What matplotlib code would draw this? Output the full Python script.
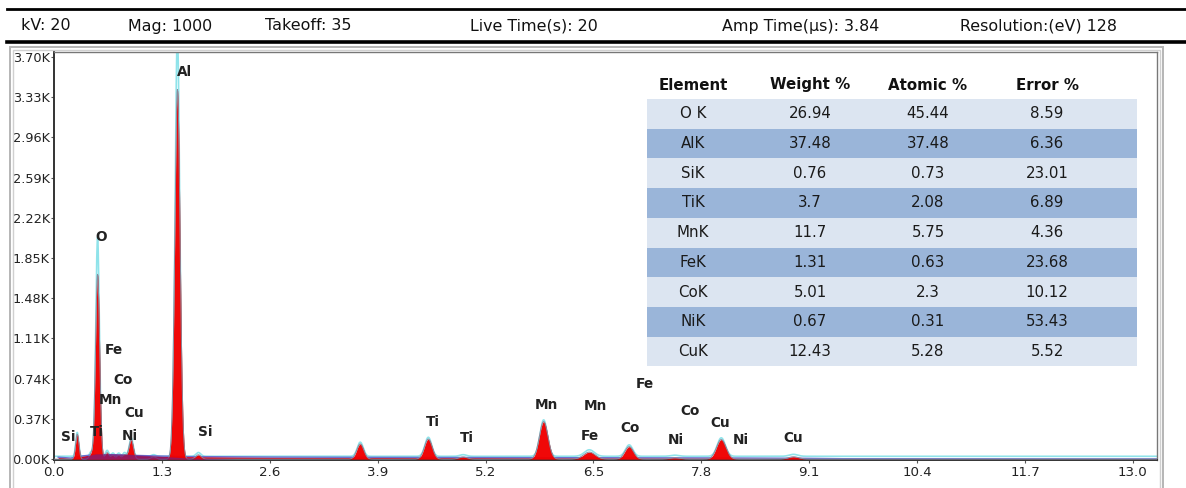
import matplotlib
matplotlib.use("Agg")
import matplotlib.pyplot as plt
from matplotlib.lines import Line2D
from matplotlib.patches import Rectangle
import numpy as np

# acquisition settings shown in the header bar
header_labels = ["kV: 20", "Mag: 1000", "Takeoff: 35", "Live Time(s): 20",
                 "Amp Time(\u00b5s): 3.84", "Resolution:(eV) 128"]

# peaks of the EDS spectrum (keV, counts, width in keV)
peak_energy = [0.28, 0.45, 0.525, 0.64, 0.71, 0.78, 0.85, 0.93, 1.20, 1.487,
               1.74, 3.69, 4.51, 4.93, 5.90, 6.45, 6.93, 7.48, 8.04, 8.91]
peak_counts = [230, 50, 1700, 60, 35, 35, 40, 180, 20, 3400,
               40, 140, 185, 20, 345, 65, 115, 12, 180, 22]
peak_top_counts = [220, 45, 2016, 55, 30, 30, 35, 170, 15, 3900,
                   35, 130, 175, 15, 335, 60, 105, 10, 170, 18]
peak_sigma = [0.02, 0.022, 0.025, 0.022, 0.022, 0.022, 0.022, 0.027, 0.03, 0.032,
              0.033, 0.042, 0.047, 0.047, 0.052, 0.07, 0.052, 0.06, 0.057, 0.06]

# continuum under the peaks
bg_energy = [0.05, 0.2, 0.35, 0.5, 0.7, 0.9, 1.1, 1.3, 1.6, 2.0, 2.6, 3.5,
             5.0, 6.5, 8.0, 9.0, 9.5, 11.0, 13.3]
bg_counts = [18, 10, 30, 42, 40, 36, 32, 28, 24, 22, 19, 17, 15, 13, 11, 8, 4, 3, 2]
hump_energy = [0.3, 0.4, 0.5, 0.7, 0.9, 1.1, 1.3, 1.6, 2.2]
hump_counts = [0, 30, 48, 50, 45, 35, 25, 12, 0]

# element labels placed on the spectrum
label_text = ["Al", "O", "Fe", "Co", "Mn", "Cu", "Si", "Ti", "Ni", "Si",
              "Ti", "Ti", "Mn", "Mn", "Fe", "Fe", "Co", "Co", "Ni", "Cu", "Ni", "Cu"]
label_energy = [1.57, 0.57, 0.72, 0.83, 0.68, 0.97, 0.17, 0.52, 0.91, 1.82,
                4.56, 4.97, 5.93, 6.52, 7.12, 6.45, 6.94, 7.66, 7.49, 8.03, 8.28, 8.91]
label_counts = [3560, 2040, 1000, 730, 545, 425, 205, 250, 215, 250,
                345, 195, 500, 490, 690, 215, 290, 445, 180, 335, 180, 195]

# quantification table
table_cols = ["Element", "Weight %", "Atomic %", "Error %"]
elements = ["O K", "AlK", "SiK", "TiK", "MnK", "FeK", "CoK", "NiK", "CuK"]
weight_pct = ["26.94", "37.48", "0.76", "3.7", "11.7", "1.31", "5.01", "0.67", "12.43"]
atomic_pct = ["45.44", "37.48", "0.73", "2.08", "5.75", "0.63", "2.3", "0.31", "5.28"]
error_pct = ["8.59", "6.36", "23.01", "6.89", "4.36", "23.68", "10.12", "53.43", "5.52"]

W, H = 1186, 488
plt.rcParams["font.family"] = ["DejaVu Sans"]
fig = plt.figure(figsize=(W / 100, H / 100), dpi=100)

# header bar
fig.add_artist(Line2D([7 / W, 1], [1 - 9 / H] * 2, color="black", lw=2))
fig.add_artist(Line2D([7 / W, 1], [1 - 42 / H] * 2, color="black", lw=2.6))
header_x = [21, 128, 265, 470, 722, 960]
for txt, px in zip(header_labels, header_x):
    fig.text(px / W, 1 - 26 / H, txt, fontsize=11.4, va="center", ha="left", color="#111111")

# grey window frame
fig.add_artist(Rectangle((10 / W, -0.01), (1163 - 10) / W, 1 - 47 / H + 0.01,
                         transform=fig.transFigure, fill=False, ec="#b5b5b5", lw=1.4))
fig.add_artist(Rectangle((13 / W, -0.01), (1160 - 13) / W, 1 - 50 / H + 0.01,
                         transform=fig.transFigure, fill=False, ec="#d0d0d0", lw=1.0))

ax = fig.add_axes([54 / W, 1 - 460 / H, (1157 - 54) / W, (460 - 52) / H])
E = np.linspace(0, 13.3, 4000)

red = np.zeros_like(E)
cyan = np.full_like(E, 26.0)
for e0, h, ht, s in zip(peak_energy, peak_counts, peak_top_counts, peak_sigma):
    red += h * np.exp(-0.5 * ((E - e0) / s) ** 2)
    cyan += ht * np.exp(-0.5 * ((E - e0) / (s * 0.85)) ** 2)

ax.plot(E, cyan, color="#8fe3ea", lw=1.2, zorder=1)
ax.fill_between(bg_energy, 0, bg_counts, color="#e00010", lw=0, zorder=2)
ax.plot(bg_energy, bg_counts, color="#6a6fd0", lw=1.0, zorder=2.5)
ax.fill_between(E, 0, red, color="#f00000", lw=0, alpha=0.97, zorder=3)
ax.plot(E, red, color="#8a8a9c", lw=0.7, zorder=4)
ax.fill_between(hump_energy, 0, hump_counts, color="#7a1f7a", lw=0, alpha=0.75, zorder=5)

for t, x, y in zip(label_text, label_energy, label_counts):
    ax.text(x, y, t, fontsize=9.8, fontweight="bold", color="#222222",
            ha="center", va="center", zorder=6)

ax.set_xlim(0, 13.29)
ax.set_ylim(-8, 3745)
xt = np.arange(0, 13.01, 1.3)
ax.set_xticks(xt)
ax.set_xticklabels(["%.1f" % v for v in xt])
yt = np.arange(0, 3701, 370)
ax.set_yticks(yt)
ax.set_yticklabels(["%.2fK" % (v / 1000) for v in yt])
ax.tick_params(axis="both", length=2, width=0.8, color="#555555", labelcolor="#222222")
ax.tick_params(axis="x", labelsize=9.6, pad=2)
ax.tick_params(axis="y", labelsize=9.3, pad=1)
for side in ["left", "bottom"]:
    ax.spines[side].set_color("#333333")
    ax.spines[side].set_linewidth(1.4)
for side in ["top", "right"]:
    ax.spines[side].set_color("#777777")
    ax.spines[side].set_linewidth(1.0)

# quantification table drawn in pixel coordinates of an overlay axes
tab = fig.add_axes([0, 0, 1, 1], facecolor="none")
tab.set_xlim(0, W)
tab.set_ylim(H, 0)
tab.axis("off")
col_x = [693, 810, 928, 1047]
row_h = 29.7
for cx, name in zip(col_x, table_cols):
    tab.text(cx, 85, name, fontsize=10.8, fontweight="bold", ha="center", va="center", color="#111111")
rows = list(zip(elements, weight_pct, atomic_pct, error_pct))
for i, row in enumerate(rows):
    top = 99 + i * row_h
    tab.add_patch(Rectangle((647, top), 1137 - 647, row_h,
                            color="#dce5f1" if i % 2 == 0 else "#9ab5d9", lw=0))
    for cx, val in zip(col_x, row):
        tab.text(cx, top + row_h / 2, val, fontsize=10.8, ha="center", va="center", color="#1a1a1a")

fig.savefig("out.png", dpi=100)
